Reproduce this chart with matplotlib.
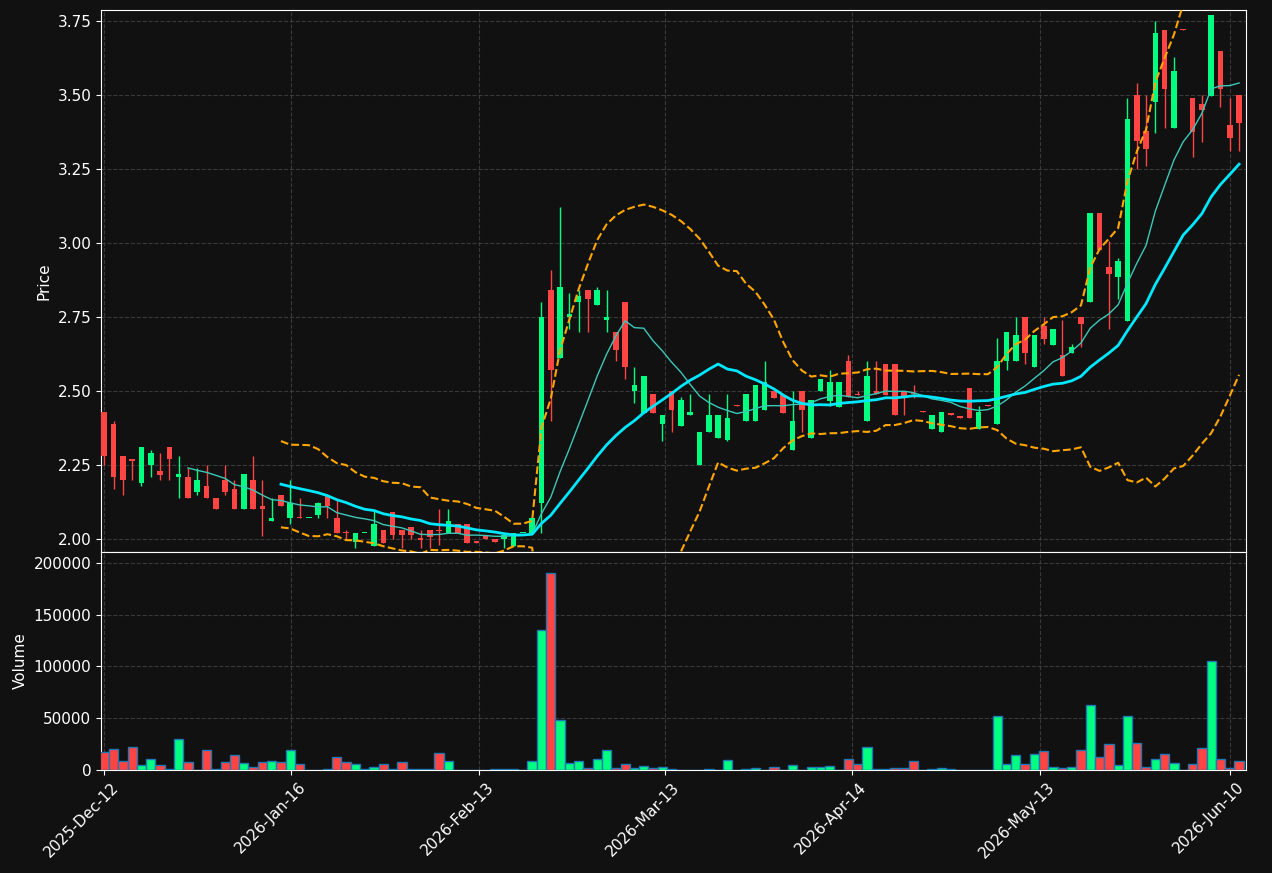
import numpy as np
import pandas as pd
import matplotlib
matplotlib.use("Agg")
import matplotlib.pyplot as plt
import matplotlib.transforms as mtransforms
from matplotlib.ticker import FuncFormatter

opens = [2.43,2.39,2.28,2.27,2.19,2.25,2.23,2.31,2.21,2.21,2.16,2.18,2.14,2.20,2.17,2.10,2.20,2.11,2.06,2.15,
         2.07,2.072,2.07,2.08,2.15,2.07,2.025,1.99,2.02,1.975,2.03,2.09,2.03,2.04,2.00,2.03,2.03,2.02,2.05,2.05,
         1.99,2.01,2.0,2.0,1.975,2.02,2.02,2.12,2.84,2.61,2.75,2.80,2.84,2.79,2.74,2.70,2.80,2.50,2.425,2.49,
         2.39,2.50,2.38,2.42,2.25,2.36,2.34,2.335,2.452,2.40,2.40,2.435,2.50,2.487,2.30,2.50,2.34,2.50,2.465,2.445,
         2.60,2.49,2.40,2.50,2.59,2.59,2.50,2.492,2.432,2.37,2.36,2.422,2.412,2.51,2.37,2.452,2.39,2.60,2.60,2.75,
         2.58,2.72,2.655,2.62,2.63,2.75,2.80,3.10,2.92,2.885,2.737,3.50,3.38,3.476,3.72,3.39,3.722,3.49,3.47,3.497,
         3.65,3.40,3.50]
highs = [2.43,2.40,2.28,2.27,2.31,2.30,2.29,2.31,2.28,2.24,2.24,2.25,2.14,2.25,2.20,2.22,2.28,2.20,2.14,2.15,
         2.20,2.14,2.07,2.125,2.15,2.13,2.03,2.02,2.02,2.10,2.03,2.09,2.03,2.04,2.03,2.03,2.10,2.10,2.05,2.05,
         1.99,2.01,2.0,2.013,2.02,2.02,2.07,2.80,2.91,3.12,2.83,2.84,2.84,2.85,2.84,2.70,2.80,2.58,2.55,2.49,
         2.42,2.50,2.48,2.49,2.36,2.49,2.42,2.49,2.452,2.49,2.52,2.60,2.50,2.487,2.50,2.50,2.47,2.54,2.57,2.53,
         2.62,2.50,2.60,2.60,2.59,2.59,2.50,2.52,2.432,2.42,2.43,2.422,2.412,2.51,2.45,2.452,2.68,2.70,2.75,2.75,
         2.69,2.75,2.71,2.74,2.66,2.75,3.10,3.10,3.007,2.95,3.49,3.54,3.50,3.75,3.72,3.63,3.722,3.49,3.50,3.77,
         3.65,3.49,3.50]
lows = [2.25,2.17,2.15,2.20,2.18,2.21,2.20,2.20,2.14,2.14,2.15,2.14,2.10,2.15,2.10,2.10,2.10,2.01,2.06,2.11,
        2.05,2.07,2.07,2.07,2.07,2.02,2.00,1.97,2.02,1.975,1.985,2.00,1.97,2.00,1.97,1.97,1.98,2.02,2.02,1.985,
        1.988,2.0,1.99,1.97,1.975,2.02,2.02,2.02,2.40,2.61,2.71,2.70,2.70,2.79,2.70,2.60,2.54,2.46,2.425,2.425,
        2.33,2.36,2.38,2.42,2.25,2.36,2.34,2.33,2.45,2.40,2.40,2.435,2.475,2.425,2.30,2.36,2.34,2.50,2.45,2.445,
        2.48,2.485,2.40,2.49,2.487,2.42,2.42,2.475,2.43,2.37,2.36,2.42,2.41,2.41,2.37,2.45,2.39,2.57,2.60,2.59,
        2.58,2.66,2.655,2.55,2.63,2.65,2.80,2.976,2.71,2.81,2.737,3.25,3.26,3.37,3.39,3.39,3.72,3.29,3.34,3.497,
        3.46,3.31,3.31]
closes = [2.28,2.21,2.20,2.265,2.31,2.29,2.215,2.27,2.22,2.14,2.20,2.14,2.10,2.16,2.10,2.22,2.10,2.10,2.07,2.11,
          2.12,2.07,2.07,2.12,2.11,2.02,2.02,2.02,2.02,2.05,1.985,2.015,2.015,2.015,1.998,2.007,2.028,2.06,2.02,1.985,
          1.988,2.0,1.99,2.013,2.02,2.02,2.07,2.75,2.57,2.85,2.76,2.82,2.81,2.84,2.75,2.64,2.58,2.52,2.55,2.425,
          2.42,2.435,2.47,2.43,2.36,2.42,2.42,2.41,2.45,2.49,2.52,2.53,2.475,2.425,2.40,2.435,2.47,2.54,2.53,2.53,
          2.48,2.485,2.55,2.49,2.487,2.42,2.48,2.49,2.43,2.42,2.43,2.42,2.41,2.41,2.43,2.45,2.60,2.70,2.69,2.63,
          2.69,2.675,2.71,2.55,2.65,2.725,3.10,2.976,2.895,2.94,3.42,3.345,3.318,3.71,3.52,3.58,3.72,3.375,3.45,3.77,
          3.52,3.355,3.405]
volumes_k = [17,20,9,22,5,11,5,0.5,30,8,0,19.5,0.5,8,14,7,3,8,9,8,
             19,6,0,0.3,0.5,13,8,6,0.5,3,6,0.5,8,0.5,0.5,0.5,16,9,0.3,0.3,
             0.3,0,0.5,0.5,0.5,0.3,9,135,190,48,7,9,2,11,19,1.5,6,1.5,3.5,1.5,
             2.5,0.5,0,0,0,0.5,0,10,0,0.5,1.5,0,2.5,0,4.5,0,2.5,2.5,3.5,0,
             11,6,22,0.5,0.5,1.5,1.5,9,0,0.5,1.5,0.5,0,0,0,0,52,6,14,6,
             15,18,3,1.5,3,19,63,13,25,5,52,26,3,11,15,7,0,6,21,105,
             11,1.5,9]
tick_pos = [0, 20.1, 40.3, 60.3, 80.4, 100.6, 121]
tick_labels = ["2025-Dec-12", "2026-Jan-16", "2026-Feb-13", "2026-Mar-13",
               "2026-Apr-14", "2026-May-13", "2026-Jun-10"]

o = np.array(opens); h = np.array(highs); l = np.array(lows); c = np.array(closes)
v = np.array(volumes_k) * 1000
n = len(c)
x = np.arange(n)

BG = "#111111"
UP = "#00ff80"
DN = "#ff4444"
cols = np.where(c >= o, UP, DN)

s = pd.Series(c)
ma10 = s.rolling(10).mean()
ma20 = s.rolling(20).mean()
sd20 = s.rolling(20).std(ddof=0)
up_b = ma20 + 2 * sd20
lo_b = ma20 - 2 * sd20

fig = plt.figure(figsize=(12.72, 8.73), dpi=100, facecolor=BG)
ax = fig.add_axes([0.0794, 0.3677, 0.9002, 0.6208], facecolor=BG)
axv = fig.add_axes([0.0794, 0.118, 0.9002, 0.2497], facecolor=BG, sharex=ax)

ax.vlines(x, l, h, colors=cols, linewidth=1, zorder=3)
body_lo = np.minimum(o, c)
body_h = np.maximum(np.abs(c - o), 0.004)
ax.bar(x, body_h, bottom=body_lo, width=0.6, color=cols, linewidth=0, zorder=4)

ax.plot(x, ma10, color="#3cc8b8", lw=1, zorder=5)
ax.plot(x, ma20, color="#00e8ff", lw=2, zorder=5)
ax.plot(x, up_b, color="#ffa500", lw=1.5, ls="--", zorder=5)
ax.plot(x, lo_b, color="#ffa500", lw=1.5, ls="--", zorder=5)

axv.bar(x, v, width=1.0, color=cols, edgecolor="#1f77b4", linewidth=1, zorder=3)

for a in (ax, axv):
    a.grid(True, color="#444444", ls="--", lw=0.8, alpha=0.8)
    a.set_axisbelow(True)
    for sp in a.spines.values():
        sp.set_color("white")
    a.tick_params(colors="white", labelsize=11)

ax.set_xlim(-0.35, 122.75)
ax.set_ylim(1.956, 3.787)
ax.set_yticks([2.0, 2.25, 2.5, 2.75, 3.0, 3.25, 3.5, 3.75])
ax.yaxis.set_major_formatter(FuncFormatter(lambda y, p: f"{y:.2f}"))
ax.set_ylabel("Price", color="white", fontsize=11)
ax.tick_params(axis="x", bottom=False, labelbottom=False)

axv.set_ylim(0, 210600)
axv.set_yticks([0, 50000, 100000, 150000, 200000])
axv.yaxis.set_major_formatter(FuncFormatter(lambda y, p: f"{int(y)}"))
axv.set_ylabel("Volume", color="white", fontsize=11)
axv.set_xticks(tick_pos)
axv.set_xticklabels(tick_labels, rotation=45, ha="right", rotation_mode="anchor")
off = mtransforms.ScaledTranslation(0.07, 0, fig.dpi_scale_trans)
for lbl in axv.get_xticklabels():
    lbl.set_transform(lbl.get_transform() + off)

fig.savefig("out.png", dpi=100, facecolor=BG)
